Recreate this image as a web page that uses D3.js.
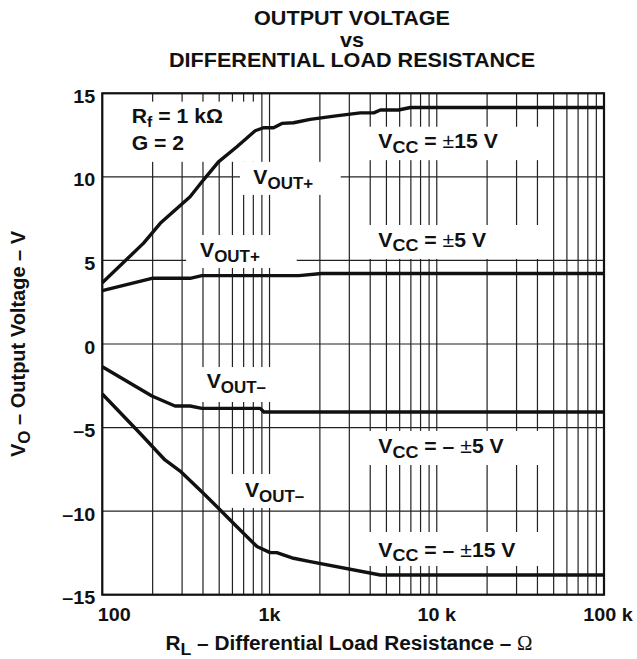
<!DOCTYPE html>
<html>
<head>
<meta charset="utf-8">
<title>Output Voltage vs Differential Load Resistance</title>
<style>
  body { margin: 0; background: #fff; }
  svg text { font-family: Arial, "Liberation Sans", Helvetica, sans-serif; font-weight: bold; fill: #111; }
  .grid line { stroke: #222; stroke-width: 1.2px; }
  .curve { fill: none; stroke: #111; stroke-width: 3.4px; stroke-linejoin: round; }
</style>
</head>
<body>
<svg width="637" height="659"></svg>
<script src="https://d3js.org/d3.v7.min.js"></script>
<script>
// R_L (ohm) and V_O (V)
const rPos15 = [100, 176, 222, 335, 402, 495, 638, 821, 920, 1057, 1186, 1392, 1750, 2500, 3490, 4200, 4600, 5900, 6960, 100000];
const vPos15 = [3.67, 6.02, 7.22, 8.81, 9.81, 10.9, 11.8, 12.76, 12.94, 12.94, 13.2, 13.24, 13.44, 13.65, 13.83, 13.83, 14.0, 14.0, 14.15, 14.15];

const rPos5 = [100, 198, 335, 394, 1500, 2050, 100000];
const vPos5 = [3.19, 3.93, 3.93, 4.09, 4.09, 4.22, 4.22];

const rNeg5 = [100, 198, 272, 335, 394, 880, 925, 100000];
const vNeg5 = [-1.36, -3.11, -3.71, -3.71, -3.85, -3.85, -4.07, -4.07];

const rNeg15 = [100, 168, 237, 292, 402, 507, 638, 841, 1008, 1105, 1392, 1752, 4600, 100000];
const vNeg15 = [-2.99, -5.34, -6.94, -7.6, -8.93, -9.93, -10.93, -12.12, -12.48, -12.48, -12.82, -13.02, -13.82, -13.82];

const yTicks = [-15, -10, -5, 0, 5, 10, 15];
const yTickLabels = ["\u201315", "\u201310", "\u20135", "0", "5", "10", "15"];
const xTicks = [100, 1000, 10000, 100000];
const xTickLabels = ["100", "1k", "10 k", "100 k"];

const svg = d3.select("svg");
const pLeft = 102.3, pRight = 604, pTop = 93.3, pBottom = 594.7;
const SX = 1.06; // glyphs in the reference are a bit wider than Arial

const x = d3.scaleLog().domain([100, 100000]).range([pLeft, pRight]);
const y = d3.scaleLinear().domain([-15, 15]).range([pBottom, pTop]);

// helper: text with a small horizontal stretch, built from parts (for subscripts)
function label(g, px, py, parts, opts) {
  opts = opts || {};
  const t = g.append("text")
    .attr("transform", `translate(${px},${py}) scale(${opts.sx || SX},1)`)
    .attr("text-anchor", opts.anchor || "start")
    .style("font-size", (opts.size || 20) + "px");
  let shift = 0;
  parts.forEach(p => {
    const s = t.append("tspan").text(p.t);
    const want = p.sub ? (p.drop || 5) : 0;
    if (want !== shift) { s.attr("dy", want - shift); shift = want; }
    if (p.size) s.style("font-size", p.size + "px");
    if (p.w) s.style("font-weight", p.w);
    if (p.f) s.style("font-family", p.f);
  });
  return t;
}

// grid
const grid = svg.append("g").attr("class", "grid");
grid.selectAll(".v").data(x.ticks()).join("line")
  .attr("x1", d => x(d)).attr("x2", d => x(d))
  .attr("y1", pTop).attr("y2", pBottom);
grid.selectAll(".h").data(yTicks).join("line")
  .attr("x1", pLeft).attr("x2", pRight)
  .attr("y1", d => y(d)).attr("y2", d => y(d));

// white patches behind the labels (the grid is broken there), in data units
const boxes = [
  [100, 853, 14.5, 10.9],      // Rf, G
  [666, 2665, 10.9, 8.92],     // VOUT+ (±15)
  [317, 1454, 6.52, 4.55],     // VOUT+ (±5)
  [3400, 46000, 13.0, 11.0],   // VCC ±15
  [3400, 46000, 7.12, 5.09],   // VCC ±5
  [335, 1363, -1.38, -3.47],   // VOUT- (±5)
  [3400, 46000, -5.2, -7.24],  // VCC -±5
  [549, 1746, -7.78, -9.81],   // VOUT- (±15)
  [3400, 46000, -11.25, -13.28]// VCC -±15
];
svg.append("g").selectAll("rect").data(boxes).join("rect")
  .attr("x", d => Math.max(x(d[0]), pLeft + 1.5))
  .attr("width", d => x(d[1]) - Math.max(x(d[0]), pLeft + 1.5))
  .attr("y", d => y(d[2]))
  .attr("height", d => y(d[3]) - y(d[2]))
  .attr("fill", "#fff");

// frame
svg.append("rect")
  .attr("x", pLeft).attr("y", pTop)
  .attr("width", pRight - pLeft).attr("height", pBottom - pTop)
  .attr("fill", "none").attr("stroke", "#111").attr("stroke-width", 2.2);

// curves
const line = d3.line().x(d => x(d[0])).y(d => y(d[1]));
const series = [[rPos15, vPos15], [rPos5, vPos5], [rNeg5, vNeg5], [rNeg15, vNeg15]];
svg.append("g").selectAll("path")
  .data(series.map(s => d3.zip(s[0], s[1])))
  .join("path").attr("class", "curve").attr("d", line);

// tick labels
const ax = svg.append("g");
yTicks.forEach((v, i) => label(ax, pLeft - 7, y(v) + 9.5, [{ t: yTickLabels[i] }], { anchor: "end", size: 18, sx: 1.1 }));
xTicks.forEach((v, i) => {
  const dx = i === 0 ? 12 : (i === xTicks.length - 1 ? 4 : 0);
  label(ax, x(v) + dx, pBottom + 26, [{ t: xTickLabels[i] }], { anchor: "middle", size: 18, sx: 1.1 });
});

// titles
const tt = svg.append("g");
label(tt, 352, 25, [{ t: "OUTPUT VOLTAGE" }], { anchor: "middle", size: 20, sx: 1.08 });
label(tt, 352, 46.5, [{ t: "vs" }], { anchor: "middle", size: 20, sx: 1.08 });
label(tt, 352, 66.5, [{ t: "DIFFERENTIAL LOAD RESISTANCE" }], { anchor: "middle", size: 20, sx: 1.08 });

label(tt, 349, 650, [
  { t: "R" }, { t: "L", sub: true, size: 17 }, { t: " \u2013 Differential Load Resistance \u2013 " },
  { t: "\u03a9", w: "normal", f: "'Liberation Serif', 'Times New Roman', serif" }
], { anchor: "middle", size: 20, sx: 1.04 });

tt.append("text")
  .attr("transform", `translate(25,${(pTop + pBottom) / 2}) rotate(-90)`)
  .attr("text-anchor", "middle")
  .style("font-size", "20px")
  .call(t => {
    t.append("tspan").text("V");
    t.append("tspan").text("O").attr("dy", 5).style("font-size", "17px");
    t.append("tspan").text(" \u2013 Output Voltage \u2013 V").attr("dy", -5);
  });

// in-plot annotations, placed in data units
const an = svg.append("g");
const at = (r, v) => [x(r), y(v)];
const vcc = (pre, val) => [{ t: "V" }, { t: "CC", sub: true, size: 17, drop: 4.5 }, { t: pre }, { t: "\u00b1", w: "normal" }, { t: val }];

label(an, ...at(150, 13.2), [{ t: "R" }, { t: "f", sub: true, size: 15, drop: 4 }, { t: " = 1 k\u03a9" }]);
label(an, ...at(150, 11.6), [{ t: "G = 2" }]);
label(an, ...at(800, 9.6), [{ t: "V" }, { t: "OUT+", sub: true, size: 16 }]);
label(an, ...at(384, 5.22), [{ t: "V" }, { t: "OUT+", sub: true, size: 16 }]);
label(an, ...at(421, -2.65), [{ t: "V" }, { t: "OUT\u2013", sub: true, size: 16 }]);
label(an, ...at(713, -9.17), [{ t: "V" }, { t: "OUT\u2013", sub: true, size: 16 }]);

label(an, ...at(4470, 11.71), vcc(" = ", "15 V"));
label(an, ...at(4470, 5.82), vcc(" = ", "5 V"));
label(an, ...at(4470, -6.54), vcc(" = \u2013 ", "5 V"));
label(an, ...at(4470, -12.73), vcc(" = \u2013 ", "15 V"));
</script>
</body>
</html>
